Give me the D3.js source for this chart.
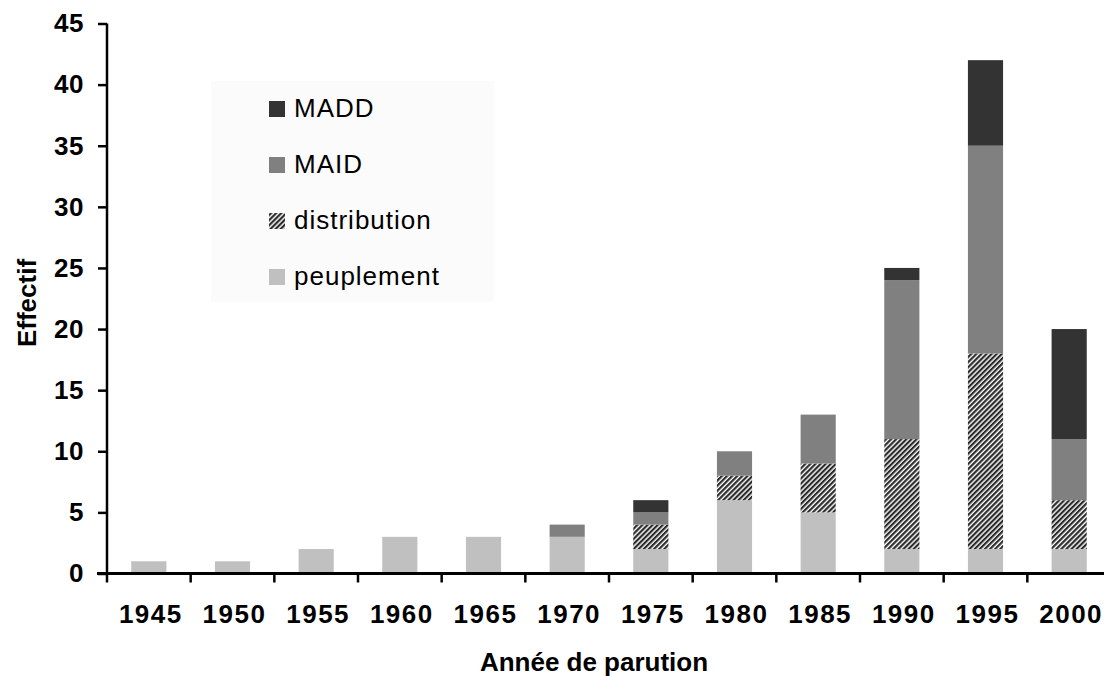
<!DOCTYPE html>
<html>
<head>
<meta charset="utf-8">
<script src="https://cdn.jsdelivr.net/npm/d3@7"></script>
<style>
  body { margin: 0; background: #fff; }
  text { font-family: "Liberation Sans", Arial, sans-serif; }
</style>
</head>
<body>
<div id="chart"></div>
<script>
// Data
const years = ["1945", "1950", "1955", "1960", "1965", "1970", "1975", "1980", "1985", "1990", "1995", "2000"];
const peuplement = [1, 1, 2, 3, 3, 3, 2, 6, 5, 2, 2, 2];
const distribution = [0, 0, 0, 0, 0, 0, 2, 2, 4, 9, 16, 4];
const maid = [0, 0, 0, 0, 0, 1, 1, 2, 4, 13, 17, 5];
const madd = [0, 0, 0, 0, 0, 0, 1, 0, 0, 1, 7, 9];
const seriesKeys = ["peuplement", "distribution", "MAID", "MADD"];
const legendOrder = ["MADD", "MAID", "distribution", "peuplement"];
const yTicks = [0, 5, 10, 15, 20, 25, 30, 35, 40, 45];

const svgWidth = 1104, svgHeight = 676;
const x0 = 107, x1 = 1111, yBottom = 573.5, yTop = 23.5;

const svg = d3.select("#chart").append("svg")
  .attr("width", svgWidth)
  .attr("height", svgHeight);

// hatch pattern for distribution
const defs = svg.append("defs");
const pat = defs.append("pattern")
  .attr("id", "hatch")
  .attr("patternUnits", "userSpaceOnUse")
  .attr("width", 3.6)
  .attr("height", 3.6)
  .attr("patternTransform", "rotate(45)");
pat.append("rect").attr("width", 3.6).attr("height", 3.6).attr("fill", "#fff");
pat.append("rect").attr("width", 2.2).attr("height", 3.6).attr("fill", "#2b2b2b");

const fills = {
  peuplement: "#c0c0c0",
  distribution: "url(#hatch)",
  MAID: "#808080",
  MADD: "#333333"
};

const rows = years.map((y, i) => ({
  year: y,
  peuplement: peuplement[i],
  distribution: distribution[i],
  MAID: maid[i],
  MADD: madd[i]
}));

const x = d3.scaleBand()
  .domain(years)
  .range([x0, x1])
  .paddingInner(0.58)
  .paddingOuter(0.29);

const y = d3.scaleLinear()
  .domain([0, 45])
  .range([yBottom, yTop]);

const stacked = d3.stack().keys(seriesKeys)(rows);

// legend background
svg.append("rect")
  .attr("x", 211).attr("y", 81)
  .attr("width", 283).attr("height", 221)
  .attr("fill", "#fbfbfb");

// bars
svg.append("g").selectAll("g")
  .data(stacked)
  .join("g")
  .attr("fill", d => fills[d.key])
  .selectAll("rect")
  .data(d => d)
  .join("rect")
  .attr("x", d => x(d.data.year))
  .attr("width", x.bandwidth())
  .attr("y", d => y(d[1]))
  .attr("height", d => y(d[0]) - y(d[1]));

// y axis
const yAxis = svg.append("g")
  .attr("transform", `translate(${x0},0)`)
  .call(d3.axisLeft(y).tickValues(yTicks).tickSize(9).tickPadding(14));
yAxis.select(".domain").attr("stroke-width", 2.5).attr("d", `M0,${yTop}V${yBottom}`);
yAxis.selectAll(".tick line").attr("stroke-width", 2.5);
yAxis.selectAll(".tick text")
  .style("font-size", "26px")
  .style("font-weight", "bold")
  .style("letter-spacing", "0.5px")
  .attr("fill", "#000")
  .attr("font-family", "Liberation Sans, Arial, sans-serif");

// x axis with ticks at category boundaries
const xAxisG = svg.append("g");
xAxisG.append("line")
  .attr("x1", x0 - 10).attr("x2", x1)
  .attr("y1", yBottom).attr("y2", yBottom)
  .attr("stroke", "#000").attr("stroke-width", 3);
xAxisG.selectAll(".xt")
  .data(years)
  .join("line")
  .attr("x1", d => x(d) - x.step() * x.paddingOuter())
  .attr("x2", d => x(d) - x.step() * x.paddingOuter())
  .attr("y1", yBottom).attr("y2", yBottom + 9)
  .attr("stroke", "#000").attr("stroke-width", 2.5);
xAxisG.selectAll(".xl")
  .data(years)
  .join("text")
  .attr("x", d => x(d) + x.bandwidth() / 2 + 2)
  .attr("y", 623)
  .attr("text-anchor", "middle")
  .style("font-size", "26px")
  .style("font-weight", "bold")
  .style("letter-spacing", "1.5px")
  .text(d => d);

// axis titles
svg.append("text")
  .attr("x", 594).attr("y", 671)
  .attr("text-anchor", "middle")
  .style("font-size", "26px")
  .style("font-weight", "bold")
  .text("Année de parution");

svg.append("text")
  .attr("transform", "translate(36,303) rotate(-90)")
  .attr("text-anchor", "middle")
  .style("font-size", "26px")
  .style("font-weight", "bold")
  .text("Effectif");

// legend
const legend = svg.append("g");
const legendItem = legend.selectAll("g")
  .data(legendOrder)
  .join("g")
  .attr("transform", (d, i) => `translate(269, ${117 + i * 56})`);
legendItem.append("rect")
  .attr("x", 0).attr("y", -16)
  .attr("width", 16).attr("height", 16)
  .attr("fill", d => fills[d]);
legendItem.append("text")
  .attr("x", 25).attr("y", 0)
  .style("font-size", "26px")
  .style("letter-spacing", "1px")
  .text(d => d);
</script>
</body>
</html>
